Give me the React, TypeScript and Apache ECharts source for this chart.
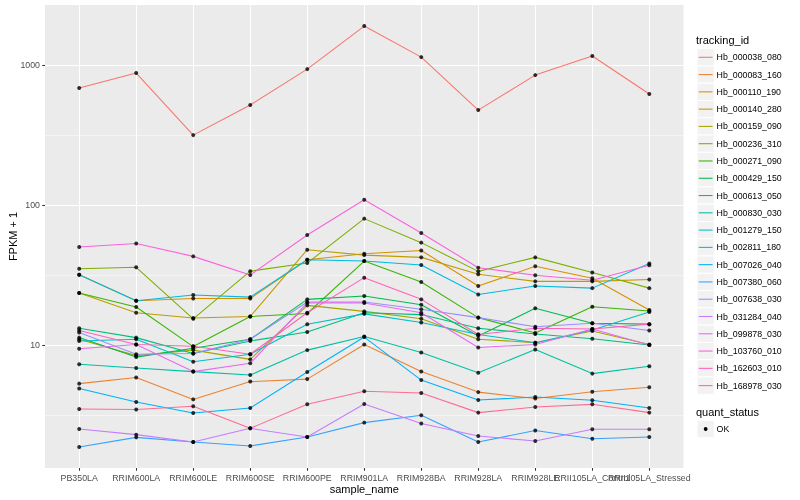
import React, { useEffect, useRef } from "react";
import * as echarts from "echarts";

const sampleNames = [
  "PB350LA", "RRIM600LA", "RRIM600LE", "RRIM600SE", "RRIM600PE", "RRIM901LA",
  "RRIM928BA", "RRIM928LA", "RRIM928LE", "RRII105LA_Control", "RRII105LA_Stressed",
];

const trackingIds = [
  "Hb_000038_080", "Hb_000083_160", "Hb_000110_190", "Hb_000140_280", "Hb_000159_090",
  "Hb_000236_310", "Hb_000271_090", "Hb_000429_150", "Hb_000613_050", "Hb_000830_030",
  "Hb_001279_150", "Hb_002811_180", "Hb_007026_040", "Hb_007380_060", "Hb_007638_030",
  "Hb_031284_040", "Hb_099878_030", "Hb_103760_010", "Hb_162603_010", "Hb_168978_030",
];

const trackingColors = [
  "#F8766D", "#EA8331", "#D89000", "#C09B00", "#A3A500",
  "#7CAE00", "#39B600", "#00BB4E", "#00BF7D", "#00C1A3",
  "#00BFC4", "#00BAE0", "#00B0F6", "#35A2FF", "#9590FF",
  "#C77CFF", "#E76BF3", "#FA62DB", "#FF62BC", "#FF6C91",
];

// FPKM + 1 per sample (same order as sampleNames)
const hb_000038_080 = [685, 877, 316, 518, 936, 1900, 1140, 477, 848, 1160, 621];
const hb_000083_160 = [5.3, 5.87, 4.09, 5.48, 5.71, 10.1, 6.46, 4.61, 4.15, 4.64, 4.99];
const hb_000110_190 = [31.8, 20.7, 21.5, 21.5, 40.7, 44.9, 47.4, 26.4, 36.5, 30.0, 17.8];
const hb_000140_280 = [23.5, 17.0, 15.6, 16.0, 48.0, 43.9, 42.3, 32.0, 28.5, 28.5, 29.4];
const hb_000159_090 = [11.0, 8.4, 9.2, 7.9, 19.2, 17.4, 15.4, 11.0, 10.4, 12.6, 10.1];
const hb_000236_310 = [35.1, 35.9, 15.4, 33.7, 38.5, 80.0, 53.9, 33.6, 42.3, 33.0, 25.5];
const hb_000271_090 = [23.5, 18.7, 9.75, 16.0, 16.8, 39.8, 28.2, 15.7, 12.2, 18.8, 17.5];
const hb_000429_150 = [11.3, 8.2, 9.5, 11.0, 21.2, 22.4, 19.4, 11.6, 18.3, 14.3, 14.1];
const hb_000613_050 = [13.2, 11.3, 8.7, 10.7, 12.4, 17.0, 16.5, 13.2, 12.0, 11.1, 10.0];
const hb_000830_030 = [7.3, 6.85, 6.46, 6.1, 9.2, 11.5, 8.83, 6.35, 9.3, 6.25, 7.05];
const hb_001279_150 = [10.7, 11.0, 7.6, 8.6, 14.1, 16.7, 14.5, 11.9, 10.4, 12.8, 17.2];
const hb_002811_180 = [31.8, 20.7, 22.8, 22.0, 40.7, 39.8, 37.3, 23.0, 26.4, 25.5, 38.3];
const hb_007026_040 = [4.9, 3.92, 3.27, 3.55, 6.42, 11.4, 5.62, 4.05, 4.25, 4.03, 3.55];
const hb_007380_060 = [1.87, 2.19, 2.03, 1.9, 2.2, 2.79, 3.15, 2.03, 2.45, 2.14, 2.2];
const hb_007638_030 = [12.3, 8.6, 8.7, 11.0, 20.3, 20.3, 18.0, 15.7, 13.5, 14.3, 12.7];
const hb_031284_040 = [2.51, 2.29, 2.03, 2.54, 2.2, 3.79, 2.75, 2.24, 2.06, 2.5, 2.5];
const hb_099878_030 = [9.4, 10.1, 6.46, 7.4, 20.0, 20.0, 17.0, 9.6, 10.1, 13.0, 10.0];
const hb_103760_010 = [50.1, 53.2, 43.0, 31.6, 61.1, 109, 63.1, 35.7, 31.5, 29.0, 37.1];
const hb_162603_010 = [12.7, 10.1, 9.8, 8.6, 17.0, 30.3, 21.2, 11.9, 13.2, 13.0, 14.1];
const hb_168978_030 = [3.49, 3.46, 3.65, 2.54, 3.77, 4.67, 4.54, 3.29, 3.61, 3.77, 3.29];

const seriesValues = [
  hb_000038_080, hb_000083_160, hb_000110_190, hb_000140_280, hb_000159_090,
  hb_000236_310, hb_000271_090, hb_000429_150, hb_000613_050, hb_000830_030,
  hb_001279_150, hb_002811_180, hb_007026_040, hb_007380_060, hb_007638_030,
  hb_031284_040, hb_099878_030, hb_103760_010, hb_162603_010, hb_168978_030,
];

const yTickValues = [10, 100, 1000];
const yMinorValues = [3.1623, 31.623, 316.23];
const quantStatus = ["OK"];
const xTitle = "sample_name";
const yTitle = "FPKM + 1";

const FONT = "'Liberation Sans', Arial, Helvetica, sans-serif";

export default function App() {
  const ref = useRef<HTMLDivElement>(null);

  useEffect(() => {
    const chart = echarts.init(ref.current as HTMLDivElement, null, { renderer: "svg" });
    const xIdx = sampleNames.map((_, i) => i);
    // labels split over two axes so that overlapping neighbours are both kept
    const xIdxEven = xIdx.filter((i) => i % 2 === 0);
    const xIdxOdd = xIdx.filter((i) => i % 2 === 1);

    const lineSeries: any[] = trackingIds.map((id, k) => ({
      name: id,
      type: "line",
      xAxisIndex: 0,
      yAxisIndex: 0,
      data: seriesValues[k].map((v, i) => [i, v]),
      showSymbol: false,
      symbol: "none",
      silent: true,
      z: 2,
      lineStyle: { color: trackingColors[k], width: 1.07 },
      itemStyle: { color: trackingColors[k] },
      emphasis: { disabled: true },
    }));

    lineSeries[0].markLine = {
      silent: true,
      z: 1,
      symbol: ["none", "none"],
      label: { show: false },
      lineStyle: { color: "#FFFFFF", width: 0.53, type: "solid" },
      emphasis: { disabled: true },
      data: yMinorValues.map((v) => ({ yAxis: v })),
    };

    const points: number[][] = [];
    seriesValues.forEach((vals) => vals.forEach((v, i) => points.push([i, v])));

    const rowH = 17.28;
    const firstRow = 57.3;
    const keyX = 697;
    const textX = 716.6;
    const graphicChildren: any[] = [
      {
        type: "text",
        x: 364.3,
        y: 489,
        style: { text: xTitle, fontSize: 11, fontFamily: FONT, fill: "#000000", verticalAlign: "middle", align: "center" },
      },
      {
        type: "text",
        x: 13,
        y: 236.5,
        rotation: Math.PI / 2,
        style: { text: yTitle, fontSize: 11, fontFamily: FONT, fill: "#000000", verticalAlign: "middle", align: "center" },
      },
      {
        type: "text",
        x: 696,
        y: 40,
        style: { text: "tracking_id", fontSize: 11, fontFamily: FONT, fill: "#000000", verticalAlign: "middle", align: "left" },
      },
    ];
    trackingIds.forEach((id, k) => {
      const cy = firstRow + k * rowH;
      graphicChildren.push(
        {
          type: "rect",
          shape: { x: keyX, y: cy - rowH / 2, width: rowH, height: rowH },
          style: { fill: "#F2F2F2", stroke: "#FFFFFF", lineWidth: 1 },
        },
        {
          type: "line",
          shape: { x1: keyX + 1.7, y1: cy, x2: keyX + rowH - 1.7, y2: cy },
          style: { stroke: trackingColors[k], lineWidth: 1.07 },
        },
        {
          type: "text",
          x: textX,
          y: cy,
          style: { text: id, fontSize: 8.8, fontFamily: FONT, fill: "#000000", verticalAlign: "middle", align: "left" },
        }
      );
    });
    const qTitleY = 412;
    const qRowY = 429;
    graphicChildren.push({
      type: "text",
      x: 696,
      y: qTitleY,
      style: { text: "quant_status", fontSize: 11, fontFamily: FONT, fill: "#000000", verticalAlign: "middle", align: "left" },
    });
    quantStatus.forEach((q, k) => {
      const cy = qRowY + k * rowH;
      graphicChildren.push(
        {
          type: "rect",
          shape: { x: keyX, y: cy - rowH / 2, width: rowH, height: rowH },
          style: { fill: "#F2F2F2", stroke: "#FFFFFF", lineWidth: 1 },
        },
        {
          type: "circle",
          shape: { cx: keyX + rowH / 2, cy, r: 1.9 },
          style: { fill: "#000000" },
        },
        {
          type: "text",
          x: textX,
          y: cy,
          style: { text: q, fontSize: 8.8, fontFamily: FONT, fill: "#000000", verticalAlign: "middle", align: "left" },
        }
      );
    });

    const xLabelBase = {
      formatter: (v: number) => sampleNames[Math.round(v)] ?? "",
      color: "#4D4D4D",
      fontSize: 8.8,
      fontFamily: FONT,
      margin: 5,
      hideOverlap: false,
      showMinLabel: true,
      showMaxLabel: true,
    };

    const option: any = {
      animation: false,
      textStyle: { fontFamily: FONT },
      grid: {
        left: 45,
        right: 116.5,
        top: 5,
        bottom: 32,
        show: true,
        backgroundColor: "#EBEBEB",
        borderWidth: 0,
        containLabel: false,
        outerBoundsMode: "none",
      },
      xAxis: [
        {
          type: "value",
          position: "bottom",
          min: -0.6,
          max: 10.6,
          axisLine: { show: false, onZero: false },
          axisTick: {
            show: true,
            customValues: xIdx,
            length: 2.75,
            lineStyle: { color: "#333333", width: 1.07 },
          },
          axisLabel: { ...xLabelBase, customValues: xIdxEven },
          splitLine: { show: true, lineStyle: { color: "#FFFFFF", width: 1.07 } },
        },
        {
          type: "value",
          position: "bottom",
          offset: 0,
          min: -0.6,
          max: 10.6,
          axisLine: { show: false, onZero: false },
          axisTick: { show: false },
          axisLabel: { ...xLabelBase, customValues: xIdxOdd },
          splitLine: { show: false },
        },
      ],
      yAxis: {
        type: "log",
        logBase: 10,
        min: 1.323,
        max: 2687,
        axisLine: { show: false, onZero: false },
        axisTick: {
          show: true,
          customValues: yTickValues,
          length: 2.75,
          lineStyle: { color: "#333333", width: 1.07 },
        },
        axisLabel: {
          customValues: yTickValues,
          formatter: (v: number) => String(Math.round(v)),
          color: "#4D4D4D",
          fontSize: 8.8,
          fontFamily: FONT,
          margin: 5,
          align: "right",
          showMinLabel: true,
          showMaxLabel: true,
        },
        splitLine: { show: true, lineStyle: { color: "#FFFFFF", width: 1.07 } },
      },
      series: [
        ...lineSeries,
        {
          name: "OK",
          type: "scatter",
          xAxisIndex: 0,
          yAxisIndex: 0,
          data: points,
          symbol: "circle",
          symbolSize: 4,
          silent: true,
          z: 3,
          itemStyle: { color: "#000000" },
          emphasis: { disabled: true },
        },
      ],
      graphic: { elements: graphicChildren },
    };

    chart.setOption(option);
    return () => {
      chart.dispose();
    };
  }, []);

  return (
    <div
      ref={ref}
      style={{ position: "fixed", left: 0, top: 0, width: 800, height: 500 }}
    />
  );
}
